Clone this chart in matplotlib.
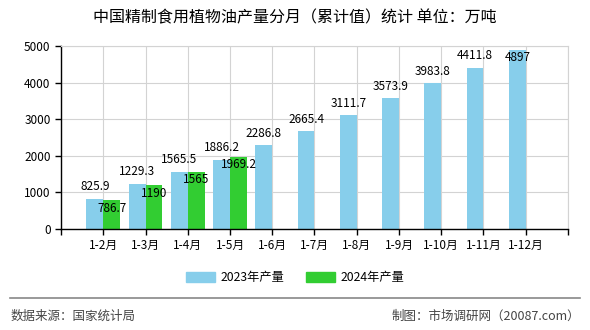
import numpy as np
import matplotlib.pyplot as plt
from matplotlib.patches import Patch
from matplotlib.lines import Line2D

plt.rcParams['font.family'] = ['Noto Sans CJK SC', 'DejaVu Sans']

months = ['1-2月', '1-3月', '1-4月', '1-5月', '1-6月', '1-7月',
          '1-8月', '1-9月', '1-10月', '1-11月', '1-12月']
output_2023 = [825.9, 1229.3, 1565.5, 1886.2, 2286.8, 2665.4,
               3111.7, 3573.9, 3983.8, 4411.8, 4897]
output_2024 = [786.7, 1190, 1565, 1969.2]
labels_2023 = ['825.9', '1229.3', '1565.5', '1886.2', '2286.8', '2665.4',
               '3111.7', '3573.9', '3983.8', '4411.8', '4897']
labels_2024 = ['786.7', '1190', '1565', '1969.2']

c23 = '#87CEEB'
c24 = '#32CD32'
ymax = 5000

fig = plt.figure(figsize=(5.9, 3.3), dpi=100)
ax = fig.add_axes([0.1034, 0.3061, 0.8593, 0.5545])

x = np.arange(1, len(months) + 1)
w = 0.4
ax.bar(x - w / 2, output_2023, width=w, color=c23, zorder=2)
ax.bar(x[:len(output_2024)] + w / 2, output_2024, width=w, color=c24, zorder=2)

# labels sit above the 2023 bars, unless there is no room left under the top
for xi, v, s in zip(x, output_2023, labels_2023):
    if v > ymax * 0.93:
        ax.annotate(s, (xi - w / 2, v), xytext=(0, -1), textcoords='offset points',
                    ha='center', va='top', fontsize=8.5, zorder=4)
    else:
        ax.annotate(s, (xi - w / 2, v), xytext=(0, 4), textcoords='offset points',
                    ha='center', va='bottom', fontsize=8.5, zorder=4)
for xi, v, s in zip(x, output_2024, labels_2024):
    ax.annotate(s, (xi + w / 2, v), xytext=(0, -1), textcoords='offset points',
                ha='center', va='top', fontsize=8.5, zorder=4)

ax.set_xlim(0, 12)
ax.set_ylim(0, ymax)
ax.set_xticks(np.arange(0, 13))
ax.set_xticklabels([''] + months + [''], fontsize=8.5)
ax.set_yticks(np.arange(0, ymax + 1, 1000))
ax.tick_params(axis='y', labelsize=8.5, length=4, width=1)
ax.tick_params(axis='x', length=4, width=1)
ax.grid(True, color='#d3d3d3', linewidth=0.8, zorder=0)
for side in ['top', 'right']:
    ax.spines[side].set_color('#d3d3d3')
for side in ['left', 'bottom']:
    ax.spines[side].set_color('black')
    ax.spines[side].set_linewidth(1)

fig.text(0.5, 0.945, '中国精制食用植物油产量分月（累计值）统计 单位：万吨',
         ha='center', va='center', fontsize=11.5)

handles = [Patch(color=c23, label='2023年产量'), Patch(color=c24, label='2024年产量')]
fig.legend(handles=handles, loc='center', bbox_to_anchor=(0.5, 0.158), ncol=2,
           frameon=False, fontsize=8.8, handlelength=2.4, handleheight=0.9,
           columnspacing=1.8, handletextpad=0.4)

fig.add_artist(Line2D([0.017, 0.983], [0.097, 0.097], color='#888888', linewidth=1.2))
fig.text(0.017, 0.042, '数据来源：国家统计局', ha='left', va='center',
         fontsize=9, color='#444444')
fig.text(0.983, 0.042, '制图：市场调研网（20087.com）', ha='right', va='center',
         fontsize=9, color='#444444')

fig.savefig('out.png', dpi=100)
